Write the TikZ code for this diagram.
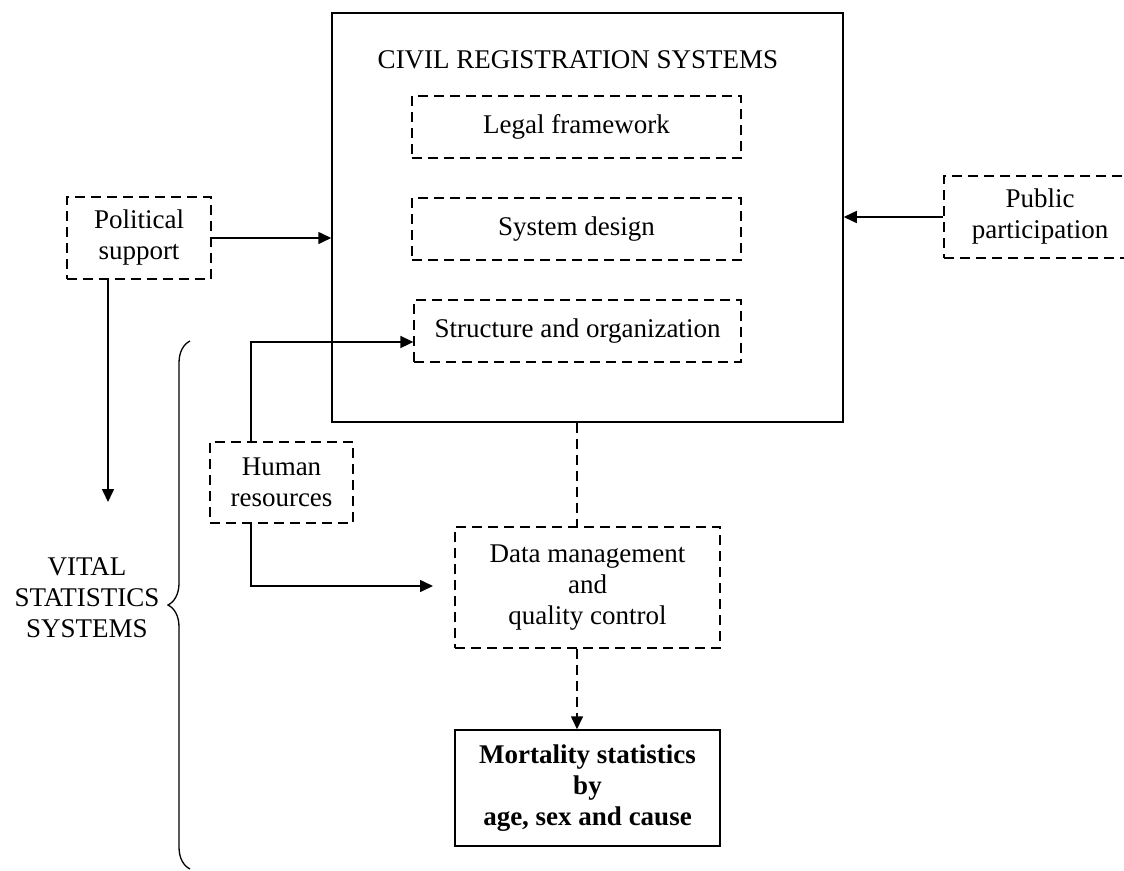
\documentclass[tikz,border=0pt]{standalone}
\usepackage{fontspec}
\setmainfont{Liberation Serif}
\usetikzlibrary{arrows.meta,decorations.pathreplacing}
\begin{document}
\begin{tikzpicture}[x=1pt,y=-1pt,
    font=\fontsize{27}{31}\selectfont,
    dbox/.style={draw,dash pattern=on 10pt off 6pt,line width=1.3pt,align=center,inner sep=0pt},
    sbox/.style={draw,line width=1.5pt,align=center,inner sep=0pt},
    tip/.style={-{Triangle[length=13pt,width=12pt]}},
    conn/.style={line width=1.6pt,tip},
    dconn/.style={line width=1.6pt,dash pattern=on 10pt off 6pt}]
  \useasboundingbox (0,0) rectangle (1124,870);
  % civil registration block
  \node[sbox,minimum width=511pt,minimum height=409pt] (crs) at (587.5,217.5) {};
  \node (title) at (578,60) {CIVIL REGISTRATION SYSTEMS};
  \node[dbox,minimum width=329pt,minimum height=62pt] (legal) at (576.5,127) {Legal framework};
  \node[dbox,minimum width=329pt,minimum height=62pt] (design) at (576.5,229) {System design};
  \node[dbox,minimum width=327pt,minimum height=62pt] (struct) at (577.5,331) {Structure and organization};
  % outside inputs
  \node[dbox,minimum width=144pt,minimum height=82pt] (pol) at (139,238) {Political\\support};
  \node[dbox,minimum width=192pt,minimum height=82pt] (pub) at (1040,217) {Public\\participation};
  \node[dbox,minimum width=143pt,minimum height=81pt] (hum) at (281.5,482.5) {Human\\resources};
  \node[dbox,minimum width=265pt,minimum height=121pt] (data) at (587.5,587.5) {Data management\\and\\quality control};
  \node[sbox,minimum width=265pt,minimum height=116pt,font=\fontsize{27}{31}\selectfont\bfseries] (mort) at (587.5,788) {Mortality statistics\\by\\age, sex and cause};
  % vital statistics brace
  \node (vital) at (87,598) [align=center] {VITAL\\STATISTICS\\SYSTEMS};
  \coordinate (bt) at (190,341);
  \coordinate (bb) at (190,869);
  \draw[line width=1.3pt,decorate,decoration={brace,amplitude=22pt}] (bb) -- (bt);
  % connectors
  \coordinate (vtip) at (108,502);
  \coordinate (hup) at (251,342);
  \coordinate (hdn) at (251,586);
  \coordinate (dtip) at (433,586);
  \coordinate (mid) at (577,0);
  \draw[conn] (pol.east) -- (crs.west |- pol.east);
  \draw[conn] (pub.west) -- (crs.east |- pub.west);
  \draw[conn] (pol.south -| vtip) -- (vtip);
  \draw[conn] (hum.north -| hup) -- (hup) -- (struct.west |- hup);
  \draw[conn] (hum.south -| hdn) -- (hdn) -- (dtip);
  \draw[dconn] (crs.south -| mid) -- (data.north -| mid);
  \draw[dconn,tip] (data.south -| mid) -- (mort.north -| mid);
\end{tikzpicture}
\end{document}
